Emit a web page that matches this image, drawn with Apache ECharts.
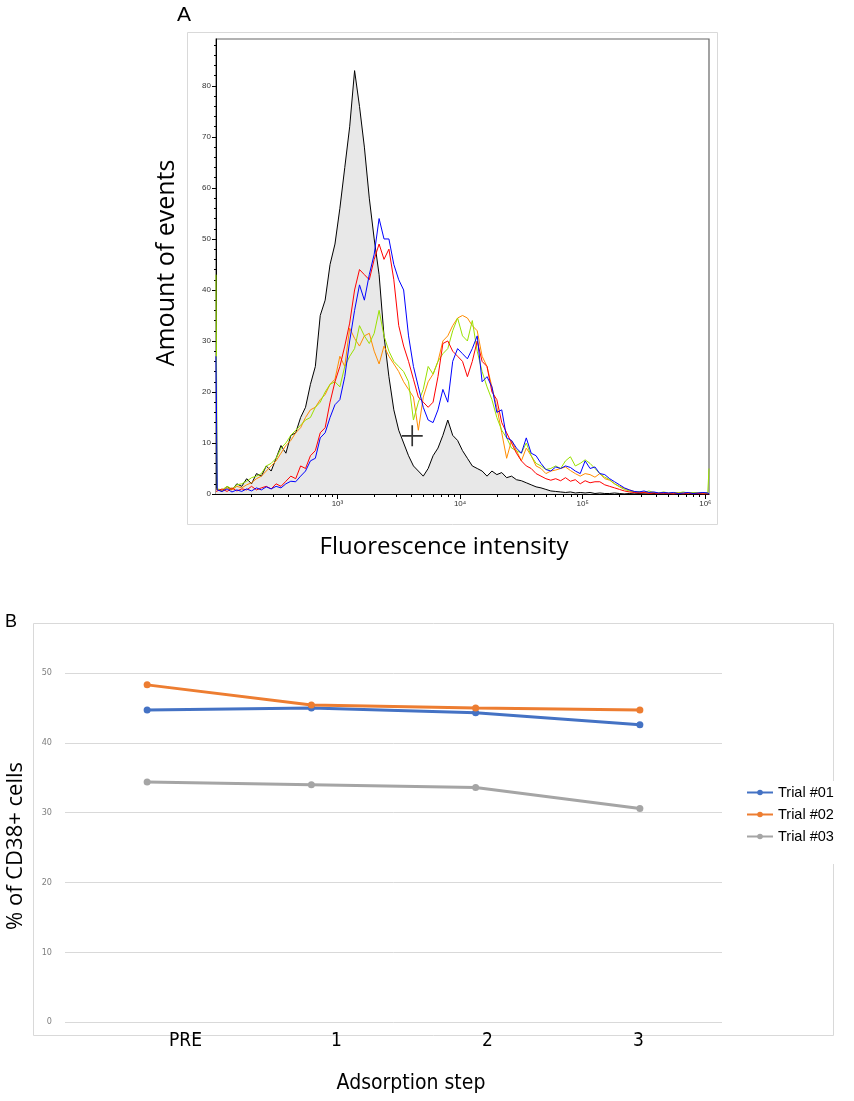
<!DOCTYPE html>
<html><head><meta charset="utf-8">
<script src="https://cdn.jsdelivr.net/npm/echarts@6/dist/echarts.min.js"></script>
<style>html,body{margin:0;padding:0;background:#fff}#c{width:854px;height:1101px}</style>
</head><body><div id="c"></div>
<script>
// ---------- Panel A: fluorescence histogram (x = log10 of intensity) ----------
const logIntensity = [2.01,
2.02,2.06,2.10,2.14,2.18,2.22,2.26,2.30,2.34,2.38,
2.42,2.46,2.50,2.54,2.58,2.62,2.66,2.70,2.74,2.78,
2.82,2.86,2.90,2.94,2.98,3.02,3.06,3.10,3.14,3.18,
3.22,3.26,3.30,3.34,3.38,3.42,3.46,3.50,3.54,3.58,
3.62,3.66,3.70,3.74,3.78,3.82,3.86,3.90,3.94,3.98,
4.02,4.06,4.10,4.14,4.18,4.22,4.26,4.30,4.34,4.38,
4.42,4.46,4.50,4.54,4.58,4.62,4.66,4.70,4.74,4.78,
4.82,4.86,4.90,4.94,4.98,5.02,5.06,5.10,5.14,5.18,
5.22,5.26,5.30,5.34,5.38,5.42,5.46,5.50,5.54,5.58,
5.62,5.66,5.70,5.74,5.78,5.82,5.86,5.90,5.94,5.98,
6.02,6.03];

const controlEvents = [1,
1,0.5,1.5,0.8,2,1.5,3,2,4,3.5,
5.5,4.5,7,9.5,8,11.5,12,15,17,21.5,
25,35,38,45,49,56,64,72,83,76,
68,58,50,43,31,23,16.5,12.5,10,7.5,
5.5,4.5,3.5,5,7.5,9,11.5,14.5,11.5,10.5,
8.5,7,5.5,5,4.5,3.5,4.5,3.8,4.2,3.2,
3.5,2.8,2.6,2.2,1.8,1.4,1.2,0.9,0.6,0.5,
0.4,0.3,0.4,0.2,0.3,0.2,0.3,0.1,0.2,0.1,
0.1,0.2,0.1,0,0.1,0,0.1,0,0,0.1,
0,0,0.1,0,0,0,0,0.1,0,0,
0,0];

const redEvents = [0.5,
0.5,1,0.5,1.2,0.6,1,0.8,1.5,0.8,1.2,
1.5,1,2,1.5,2.5,3.5,3,5.5,5,7.5,
8.5,12,13,18,22,25,29,33.5,40,44,
43,42,46,49,46,48,42,33,29,26,
22.5,19,18,17,18,23,29.5,30,28,27,
26,23,26,30,26,25,20,18.5,14,12,
10,8,6.5,5.5,5,4,3.5,3,2.7,3,
2.6,3.2,2.5,2.8,2,2.6,2.2,2.4,2.4,1.8,
1.5,1.2,0.9,0.6,0.4,0.3,0.2,0.3,0.1,0.2,
0.1,0.2,0.1,0,0.1,0,0.2,0,0.1,0,
0,0];

const blueEvents = [27,
0.8,0.5,1,0.4,0.8,0.5,1,0.6,1.2,0.8,
1.4,1,1.5,1.2,2,2.5,2.4,3.5,4.5,6.5,
7,11,12,15,17.5,18.5,23,30,36,41,
38,43,47,54,50,50,45,42,40,31,
25,21,17,14.5,14,16.5,20.5,18,26,28.5,
27.5,26.5,28.5,31,22,23,21,16,16.5,11,
10.5,9,8,11,8,7.5,6,4.8,4.5,5.3,
5,5.5,5.2,4.5,4,6.5,5,5.3,4,3.8,
3,2.4,1.8,1.2,0.8,0.5,0.4,0.6,0.3,0.4,
0.2,0.3,0.2,0.3,0.1,0.2,0.3,0.1,0.2,0.3,
0.2,0];

const greenEvents = [43,
1,0.8,1.5,1,1.8,2,2.5,3.2,3.5,4,
5.5,6,7,9,10,11.5,12.5,13.5,14.5,15,
17,18,20,21.5,22,21,25,27,28.5,33,
31,29.5,31.5,36,31,28,26,25,24,22,
14.5,18,20.5,25,23.5,26,27.5,28.5,32,34.5,
31,30,34,28,24,21,18.5,15,12.5,11,
9,8.5,8,10,7.5,6,5.5,4.8,5,5.5,
5,6.5,7.3,5.5,6,6.7,6,5,4,3.3,
2.8,2,1.4,0.9,0.6,0.4,0.5,0.3,0.6,0.3,
0.2,0.4,0.2,0.3,0.2,0.4,0.2,0.3,0.2,0.3,
0.2,5];

const orangeEvents = [1,
1,0.6,1.2,0.8,1.5,1.2,1.8,2.2,3,3.5,
4.5,5.5,6.5,8,9.5,10.5,12,13,15,16.5,
17,18.5,19.5,21.5,22.5,27,25,32.5,30.5,29,
31,31.5,28,25.5,29,27,25.5,24,22,20.5,
19,12.5,19,22,23.5,26,30,31,33,34.5,
35,34.5,33,32,27,25,21,17,12,7,
10.5,8.5,6.5,9,7.5,5.5,5,4,4.5,4.7,
5,5.3,4.6,4,3.5,4,3.8,3.3,4,3,
2.7,2,1.5,1.1,0.8,0.5,0.3,0.4,0.2,0.3,
0.2,0.3,0.1,0.2,0.3,0.2,0.1,0.3,0.2,0.1,
0.2,0];

const cursorMark = [3.61, 11.4];
const decadeTicks = [3, 4, 5, 6];
const decadeLabels = ['10\u00B3', '10\u2074', '10\u2075', '10\u2076'];
const countTicks = [0, 10, 20, 30, 40, 50, 60, 70, 80];

// ---------- Panel B: % of CD38+ cells ----------
const steps = ['PRE', '1', '2', '3'];
const trial01 = [44.7, 45.0, 44.3, 42.6];
const trial02 = [48.3, 45.4, 45.0, 44.7];
const trial03 = [34.4, 34.0, 33.6, 30.6];

// ---------- helpers ----------
const pairs = arr => logIntensity.map((x, i) => [x, arr[i]]);
const minorX = [];
for (let d = 2; d <= 5; d++) for (let k = 2; k <= 9; k++) {
  const v = Math.log10(k * Math.pow(10, d));
  if (v > 2.01 && v < 6.03) minorX.push(v);
}
const minorY = [];
for (let v = 2; v <= 88; v += 2) if (v % 10 !== 0) minorY.push(v);

const narrow = "'Liberation Sans Narrow','DejaVu Sans Condensed',sans-serif";
const sans = "'Open Sans','Noto Sans',sans-serif";

const histLine = (name, data, color, z) => ({
  name, type: 'line', xAxisIndex: 0, yAxisIndex: 0, data: pairs(data),
  showSymbol: false, symbol: 'none', silent: true, z,
  lineStyle: { color, width: 1 }, itemStyle: { color }
});

const chart = echarts.init(document.getElementById('c'), null, { renderer: 'canvas' });
chart.setOption({
  animation: false,
  backgroundColor: '#fff',
  grid: [
    { left: 216, top: 39, width: 493, height: 455, show: true, borderColor: '#666', borderWidth: 1.2 },
    { left: 65, top: 673, right: 132, bottom: 79 },
    { left: 110, top: 673, width: 604, bottom: 79 }
  ],
  xAxis: [
    { gridIndex: 0, type: 'value', min: 2.01, max: 6.03, position: 'bottom',
      axisLine: { show: true, lineStyle: { color: '#000', width: 1 } },
      axisTick: { show: true, customValues: decadeTicks, length: 5, lineStyle: { color: '#000' } },
      axisLabel: { show: true, customValues: decadeTicks, margin: 6, fontSize: 8, color: '#333',
        fontFamily: 'Liberation Sans, sans-serif',
        formatter: v => decadeLabels[decadeTicks.indexOf(Math.round(v))] },
      splitLine: { show: false } },
    { gridIndex: 0, type: 'value', min: 2.01, max: 6.03, position: 'bottom',
      axisLine: { show: false },
      axisTick: { show: true, customValues: minorX, length: 3, lineStyle: { color: '#000' } },
      axisLabel: { show: false }, splitLine: { show: false } },
    { gridIndex: 1, type: 'category', data: steps, boundaryGap: true,
      axisLine: { show: false }, axisTick: { show: false }, axisLabel: { show: false } },
    { gridIndex: 2, type: 'category', data: steps, boundaryGap: true,
      axisLine: { show: false }, axisTick: { show: false },
      axisLabel: { show: true, fontSize: 19, color: '#000', fontFamily: narrow, margin: 10 } }
  ],
  yAxis: [
    { gridIndex: 0, type: 'value', min: 0, max: 89.2, position: 'left',
      axisLine: { show: true, lineStyle: { color: '#000', width: 1 } },
      axisTick: { show: true, customValues: countTicks, length: 4, lineStyle: { color: '#000' } },
      axisLabel: { show: true, customValues: countTicks, margin: 5, fontSize: 8, color: '#333',
        fontFamily: 'Liberation Sans, sans-serif' },
      splitLine: { show: false } },
    { gridIndex: 0, type: 'value', min: 0, max: 89.2, position: 'left', offset: 0,
      axisLine: { show: false },
      axisTick: { show: true, customValues: minorY, length: 2, lineStyle: { color: '#000' } },
      axisLabel: { show: false }, splitLine: { show: false } },
    { gridIndex: 1, type: 'value', min: 0, max: 50, interval: 10,
      axisLine: { show: false }, axisTick: { show: false },
      axisLabel: { fontSize: 9, color: '#7f7f7f', fontFamily: narrow, margin: 13 },
      splitLine: { lineStyle: { color: '#d9d9d9', width: 1 } } },
    { gridIndex: 2, type: 'value', show: false, min: 0, max: 50 }
  ],
  legend: {
    data: ['Trial #01', 'Trial #02', 'Trial #03'],
    orient: 'vertical', left: 742, top: 781,
    itemWidth: 26, itemHeight: 7, itemGap: 7,
    backgroundColor: '#fff', padding: [4, 4, 20, 4],
    textStyle: { fontSize: 14.5, color: '#000', fontFamily: "'Liberation Sans',sans-serif", lineHeight: 14 }
  },
  graphic: [
    { type: 'rect', z: -10, silent: true, shape: { x: 187.5, y: 32.5, width: 530, height: 492 },
      style: { fill: 'none', stroke: '#d9d9d9', lineWidth: 1 } },
    { type: 'rect', z: -10, silent: true, shape: { x: 33.5, y: 623.5, width: 800, height: 412 },
      style: { fill: 'none', stroke: '#d9d9d9', lineWidth: 1 } },
    { type: 'text', x: 184, y: 15, silent: true,
      style: { text: 'A', fontSize: 21, fontFamily: "'Liberation Sans',sans-serif", fill: '#000', align: 'center', verticalAlign: 'middle' } },
    { type: 'text', x: 11, y: 622, silent: true,
      style: { text: 'B', fontSize: 18, fontFamily: "'Liberation Sans',sans-serif", fill: '#000', align: 'center', verticalAlign: 'middle' } },
    { type: 'text', x: 167, y: 263, rotation: Math.PI / 2, silent: true,
      style: { text: 'Amount of events', fontSize: 25, fontFamily: sans, fill: '#000', align: 'center', verticalAlign: 'middle' } },
    { type: 'text', x: 444, y: 547, silent: true,
      style: { text: 'Fluorescence intensity', fontSize: 24, fontFamily: sans, fill: '#000', align: 'center', verticalAlign: 'middle' } },
    { type: 'text', x: 16, y: 846, rotation: Math.PI / 2, silent: true,
      style: { text: '% of CD38+ cells', fontSize: 22, fontFamily: sans, fill: '#000', align: 'center', verticalAlign: 'middle' } },
    { type: 'text', x: 411, y: 1084, silent: true,
      style: { text: 'Adsorption step', fontSize: 21, fontFamily: narrow, fill: '#000', align: 'center', verticalAlign: 'middle' } }
  ],
  series: [
    { name: 'control', type: 'line', xAxisIndex: 0, yAxisIndex: 0, data: pairs(controlEvents),
      showSymbol: false, symbol: 'none', silent: true, z: 1,
      lineStyle: { color: '#000', width: 1 }, areaStyle: { color: '#e8e8e8', opacity: 1 } },
    histLine('orange', orangeEvents, '#ff8c00', 2),
    histLine('green', greenEvents, '#99e000', 3),
    histLine('red', redEvents, '#ff0000', 4),
    histLine('blue', blueEvents, '#0000ff', 5),
    { name: 'cursor', type: 'scatter', xAxisIndex: 0, yAxisIndex: 0, data: [cursorMark], silent: true, z: 6,
      symbol: 'path://M0,9.2 H20 V10.8 H0 Z M9.2,0 H10.8 V20 H9.2 Z', symbolSize: 21,
      itemStyle: { color: '#000' } },
    { name: 'Trial #01', type: 'line', xAxisIndex: 2, yAxisIndex: 2, data: trial01,
      symbol: 'circle', symbolSize: 7, lineStyle: { color: '#4472C4', width: 3 }, itemStyle: { color: '#4472C4' } },
    { name: 'Trial #02', type: 'line', xAxisIndex: 2, yAxisIndex: 2, data: trial02,
      symbol: 'circle', symbolSize: 7, lineStyle: { color: '#ED7D31', width: 3 }, itemStyle: { color: '#ED7D31' } },
    { name: 'Trial #03', type: 'line', xAxisIndex: 2, yAxisIndex: 2, data: trial03,
      symbol: 'circle', symbolSize: 7, lineStyle: { color: '#A5A5A5', width: 3 }, itemStyle: { color: '#A5A5A5' } }
  ]
});
</script>
</body></html>
